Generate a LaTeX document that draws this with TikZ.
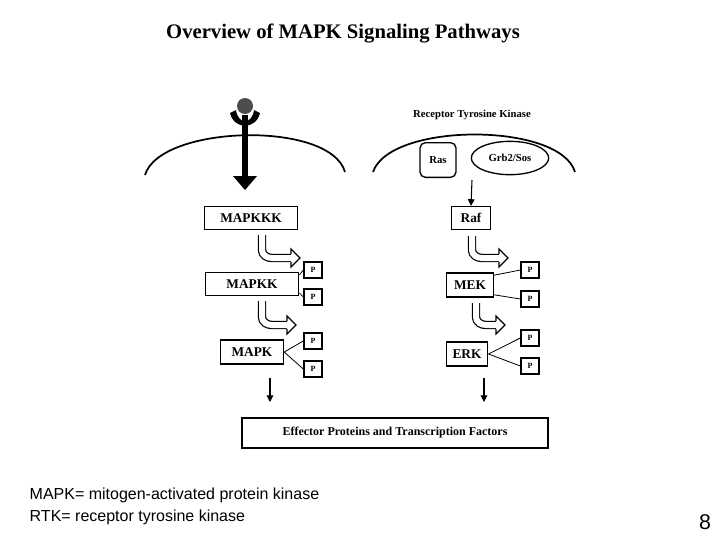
\documentclass[tikz,border=0pt]{standalone}
\usepackage{fontspec}
\setmainfont{Liberation Serif}
\setsansfont{Liberation Sans}
\usetikzlibrary{arrows.meta,shapes.geometric}
\tikzset{
 kbox/.style={draw,line width=1.2pt,font=\bfseries\fontsize{10}{12}\selectfont,inner sep=0pt},
 pbox/.style={draw,line width=1pt,minimum width=13.5pt,minimum height=12pt,font=\bfseries\fontsize{6}{7}\selectfont,inner sep=0pt},
 link/.style={line width=0.6pt},
 thin arrow/.style={line width=0.8pt,-{Triangle[length=5pt,width=5pt]}},
 bent/.style={double=white,double distance=4.5pt,line width=0.9pt},
 membrane/.style={line width=1.3pt}
}
\newcommand{\bentarrow}[4]{% x, ytop, ybend, xend
 \draw[bent] (#1,#2) -- (#1,#3-8) to[out=-90,in=180] (#1+10,#3) -- (#4-8,#3);
 \draw[line width=0.9pt,fill=white] (#4-9,#3-4) -- (#4-9,#3-9) -- (#4,#3) -- (#4-9,#3+9) -- (#4-9,#3+4);
}
\begin{document}
\begin{tikzpicture}[x=0.75pt,y=-0.75pt]
\useasboundingbox (0,0) rectangle (720,540);
\node[font=\bfseries\fontsize{15.5}{18}\selectfont] (title) at (343,34) {Overview of MAPK Signaling Pathways};
% membranes
\draw[membrane] (145,175) .. controls (160,125) and (330,120) .. (345,172);
\draw[membrane] (373,172) .. controls (390,122) and (560,122) .. (575,172);
% ligand/receptor
\fill (233,176) -- (257,176) -- (245,190) -- cycle;
\fill (236,110) .. controls (238,125) and (252,125) .. (254,110) -- (260,113) .. controls (256,130) and (234,130) .. (230,113) -- cycle;
\fill[gray!60!black] (245,106) circle[radius=8];
\draw[line width=4.5pt] (245,115) -- (245,176);
\node[font=\bfseries\fontsize{8}{10}\selectfont] (rtk) at (472,115) {Receptor Tyrosine Kinase};
\node[draw,line width=1pt,rounded corners=4pt,minimum width=27pt,minimum height=26pt,font=\bfseries\fontsize{8}{10}\selectfont] (ras) at (438,160) {Ras};
\node[draw,ellipse,line width=1pt,minimum width=58pt,minimum height=25pt,font=\bfseries\fontsize{8}{10}\selectfont,inner sep=0pt] (grb) at (510,158) {Grb2/Sos};
% kinase boxes
\node[kbox,minimum width=70pt,minimum height=17pt] (mkkk) at (251,218) {MAPKKK};
\node[kbox,minimum width=70pt,minimum height=17pt] (mkk) at (252,284) {MAPKK};
\node[kbox,minimum width=47pt,minimum height=18pt] (mk) at (252,352) {MAPK};
\node[kbox,minimum width=29pt,minimum height=17pt] (raf) at (471,218) {Raf};
\node[kbox,minimum width=35pt,minimum height=18pt] (mek) at (470,285) {MEK};
\node[kbox,minimum width=31pt,minimum height=18pt] (erk) at (467,354) {ERK};
% P boxes
\node[pbox] (p1) at (313,270) {P};
\node[pbox] (p2) at (313,297) {P};
\node[pbox] (p3) at (313,341) {P};
\node[pbox] (p4) at (313,369) {P};
\node[pbox] (p5) at (530,270) {P};
\node[pbox] (p6) at (530,299) {P};
\node[pbox] (p7) at (530,338) {P};
\node[pbox] (p8) at (530,366) {P};
\draw[link] (mkk.north east) ++(0,3) -- (p1.west);
\draw[link] (mkk.south east) ++(0,-3) -- (p2.west);
\draw[link] (mk.east) -- (p3.west);
\draw[link] (mk.east) -- (p4.west);
\draw[link] (mek.north east) ++(0,3) -- (p5.west);
\draw[link] (mek.south east) ++(0,-3) -- (p6.west);
\draw[link] (erk.east) -- (p7.west);
\draw[link] (erk.east) -- (p8.west);
% bent arrows
\bentarrow{262}{235}{258}{300}
\bentarrow{262}{301}{325}{296}
\bentarrow{472}{236}{258}{508}
\bentarrow{476}{303}{325}{505}
% thin arrows
\node[draw,line width=1.5pt,minimum width=229pt,minimum height=22pt,font=\bfseries\fontsize{9}{11}\selectfont] (eff) at (395,433) {Effector Proteins and Transcription Factors};
\coordinate (a1) at (270,378); \coordinate (a2) at (270,402);
\coordinate (b1) at (484,378); \coordinate (b2) at (484,402);
\draw[thin arrow] (a1) -- (a2);
\draw[thin arrow] (b1) -- (b2);
\draw[thin arrow] (472,180) -- (raf.north);
% footer
\node[anchor=west,font=\sffamily\fontsize{12}{14}\selectfont] (f1) at (25,495) {MAPK= mitogen-activated protein kinase};
\node[anchor=west,font=\sffamily\fontsize{12}{14}\selectfont] (f2) at (25,517) {RTK= receptor tyrosine kinase};
\node[font=\sffamily\fontsize{16}{18}\selectfont] (pg) at (705,522) {8};
\end{tikzpicture}
\end{document}
